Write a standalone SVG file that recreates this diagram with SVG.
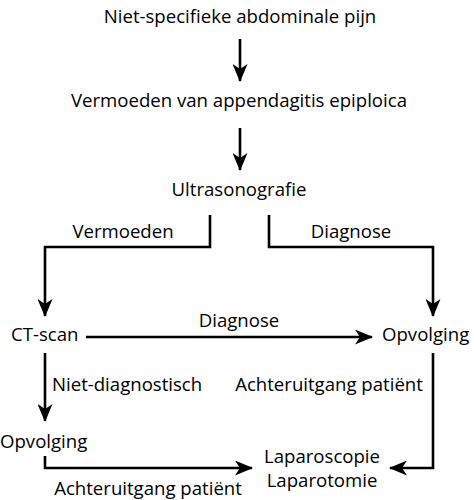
<svg xmlns="http://www.w3.org/2000/svg" width="474" height="500" viewBox="0 0 474 500">
<defs>
<style>
text{font-family:"Open Sans","Noto Sans",sans-serif;font-size:18.6px;fill:#000}
.c{text-anchor:middle}
.ln{fill:none;stroke:#000;stroke-width:2.6}
</style>
<marker id="ah" viewBox="0 0 18 15" refX="17" refY="7.5" markerWidth="18" markerHeight="15" markerUnits="userSpaceOnUse" orient="auto">
<path d="M0,0 L18,7.5 L0,15 L5,7.5 Z" fill="#000"/>
</marker>
</defs>
<rect width="474" height="500" fill="#fff"/>
<g id="n1"><text class="c" x="240" y="23">Niet-specifieke abdominale pijn</text></g>
<g id="n2"><text class="c" x="239" y="107">Vermoeden van appendagitis epiploica</text></g>
<g id="n3"><text class="c" x="239" y="196">Ultrasonografie</text></g>
<g id="n4"><text x="11" y="341">CT-scan</text></g>
<g id="n5"><text x="382" y="341">Opvolging</text></g>
<g id="n6"><text x="0" y="448">Opvolging</text></g>
<g id="n7"><text class="c" x="322" y="463">Laparoscopie</text><text class="c" x="322" y="487">Laparotomie</text></g>
<g id="connectors">
<path class="ln" marker-end="url(#ah)" d="M240,39 V81"/>
<path class="ln" marker-end="url(#ah)" d="M240,128 V170"/>
<path class="ln" marker-end="url(#ah)" d="M210,215 V247 H45 V316"/>
<path class="ln" marker-end="url(#ah)" d="M269,215 V247 H433 V316"/>
<path class="ln" marker-end="url(#ah)" d="M86,337 H372"/>
<path class="ln" marker-end="url(#ah)" d="M45,353 V421"/>
<path class="ln" marker-end="url(#ah)" d="M433,353 V468 H390"/>
<path class="ln" marker-end="url(#ah)" d="M45,456 V468 H252"/>
<text x="123" y="238" class="c">Vermoeden</text>
<text x="351" y="238" class="c">Diagnose</text>
<text x="239" y="327" class="c">Diagnose</text>
<text x="52" y="391">Niet-diagnostisch</text>
<text x="329" y="391" class="c">Achteruitgang patiënt</text>
<text x="148" y="495" class="c">Achteruitgang patiënt</text>
</g>
</svg>
